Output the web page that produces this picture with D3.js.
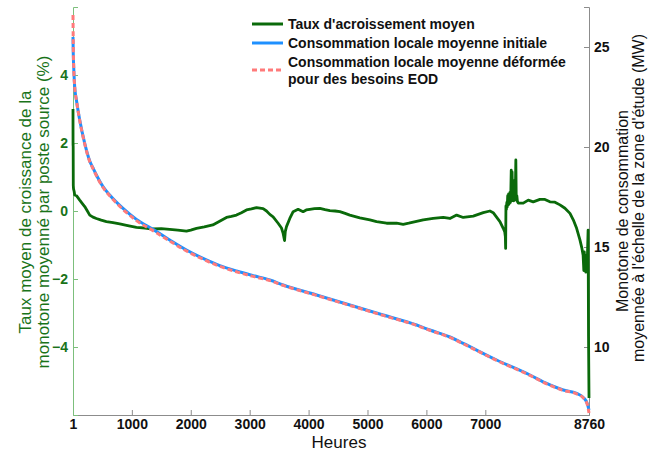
<!DOCTYPE html>
<html>
<head>
<meta charset="utf-8">
<script src="https://cdn.jsdelivr.net/npm/d3@7/dist/d3.min.js"></script>
<style>
  html, body { margin: 0; padding: 0; background: #ffffff; }
  svg { display: block; font-family: "Liberation Sans", Arial, sans-serif; }
</style>
</head>
<body>
<svg id="chart" width="648" height="454"></svg>
<script>
// Hourly axis ticks and value ticks
const xTicks = [1, 1000, 2000, 3000, 4000, 5000, 6000, 7000, 8760];
const leftTicks = [-4, -2, 0, 2, 4];
const rightTicks = [10, 15, 20, 25];

// Mean growth rate (%) along the sorted hours
const rateHours = [
  1, 2, 4, 6, 10, 20, 30, 60, 115, 160, 200, 245, 285, 340, 398, 480, 568, 680, 794, 930,
  1078, 1220, 1355, 1500, 1643, 1780, 1927, 2000, 2097, 2230, 2374, 2490, 2606, 2690, 2776,
  2860, 2946, 3030, 3116, 3228, 3286, 3342, 3398, 3483, 3540, 3568, 3592, 3605, 3625, 3681,
  3738, 3822, 3907, 3960, 4021, 4100, 4191, 4280, 4361, 4450, 4531, 4620, 4700, 4870, 5040,
  5154, 5324, 5494, 5606, 5700, 5776, 5946, 6115, 6285, 6399, 6513, 6625, 6795, 6965, 7078,
  7134, 7248, 7304, 7330, 7340, 7345, 7350, 7358, 7365, 7372, 7380, 7388, 7395, 7402, 7410,
  7418, 7425, 7432, 7440, 7447, 7455, 7462, 7470, 7480, 7490, 7500, 7510, 7518, 7525, 7535,
  7545, 7560, 7644, 7729, 7813, 7927, 8012, 8097, 8182, 8267, 8352, 8437, 8493, 8550, 8606,
  8640, 8660, 8672, 8680, 8690, 8700, 8706, 8715, 8725, 8735, 8745, 8752, 8760
];
const rateValues = [
  3.0, 1.95, 1.9, 0.75, 0.65, 0.58, 0.47, 0.45, 0.32, 0.22, 0.13, 0.0, -0.12, -0.18, -0.22, -0.27, -0.31, -0.34, -0.38, -0.43,
  -0.48, -0.5, -0.53, -0.52, -0.54, -0.56, -0.59, -0.56, -0.51, -0.47, -0.41, -0.3, -0.19, -0.16, -0.12,
  -0.05, 0.03, 0.06, 0.1, 0.07, 0.0, -0.1, -0.17, -0.36, -0.5, -0.66, -0.87, -0.6, -0.46, -0.22,
  -0.02, 0.05, -0.02, 0.03, 0.05, 0.07, 0.08, 0.04, 0.01, 0.0, -0.02, -0.07, -0.12, -0.2, -0.26,
  -0.31, -0.36, -0.36, -0.39, -0.36, -0.33, -0.26, -0.22, -0.19, -0.22, -0.12, -0.19, -0.15, -0.05, 0.0,
  -0.05, -0.31, -0.51, -0.62, -0.75, -1.1, 0.15, 0.05, 0.25, 0.12, 0.45, 0.18, 0.5, 0.2, 0.35,
  0.55, 0.25, 0.45, 1.2, 0.3, 1.15, 0.35, 0.9, 0.3, 0.45, 0.32, 0.6, 1.5, 0.35, 0.45,
  0.28, 0.23, 0.23, 0.32, 0.27, 0.34, 0.34, 0.27, 0.26, 0.18, 0.08, -0.07, -0.26, -0.51, -0.85,
  -1.1, -1.3, -1.75, -1.2, -1.6, -1.3, -1.8, -1.4, -1.75, -1.2, -0.56, -3.7, -5.5
];

// Mean local load duration curves (MW)
const loadHours = [
  1, 5, 13, 30, 59, 115, 200, 285, 341, 398, 510, 624, 850, 1078, 1360, 1643, 1927, 2209,
  2493, 2776, 3058, 3342, 3568, 4135, 4701, 5266, 5833, 6059, 6399, 6625, 7192, 7758, 8041,
  8323, 8550, 8662, 8730, 8760
];
const loadInitial = [
  25.5, 24.7, 24.0, 23.0, 22.35, 21.35, 20.18, 19.3, 18.95, 18.6, 18.02, 17.6, 16.93, 16.38, 15.88, 15.35, 14.85, 14.43,
  14.07, 13.8, 13.57, 13.35, 13.1, 12.6, 12.1, 11.6, 11.1, 10.85, 10.5, 10.18, 9.35, 8.6, 8.18,
  7.85, 7.68, 7.48, 7.18, 6.85
];
const loadDeformed = [
  26.6, 25.3, 24.0, 23.0, 22.35, 21.33, 20.15, 19.27, 18.92, 18.57, 17.98, 17.56, 16.88, 16.32, 15.82, 15.3, 14.8, 14.39,
  14.03, 13.76, 13.53, 13.32, 13.08, 12.58, 12.08, 11.58, 11.08, 10.83, 10.48, 10.16, 9.33, 8.58, 8.16,
  7.83, 7.66, 7.46, 7.14, 6.7
];

const legendLabels = [
  ["Taux d'acroissement moyen"],
  ["Consommation locale moyenne initiale"],
  ["Consommation locale moyenne déformée", "pour des besoins EOD"]
];

const colors = {
  rate: "#0a6a0a",
  initial: "#1e90ff",
  deformed: "#ff7a7a",
  leftAxis: "#7cbf7c",
  leftText: "#197319",
  frame: "#8c8c8c"
};

const svg = d3.select("#chart");
const margin = { left: 73, right: 589, top: 7, bottom: 415 };

const x = d3.scaleLinear().domain([1, 8760]).range([margin.left, margin.right]);
const yLeft = d3.scaleLinear().domain([-6, 6]).range([margin.bottom, margin.top]);
const yRight = d3.scaleLinear().domain([6.6, 27]).range([margin.bottom, margin.top]);

// Axes
const xAxis = svg.append("g")
  .attr("transform", `translate(0,${margin.bottom})`)
  .call(d3.axisBottom(x).tickValues(xTicks).tickSize(-5).tickPadding(4).tickFormat(d3.format("d")));
xAxis.select(".domain").attr("stroke", colors.frame);
xAxis.selectAll(".tick line").attr("stroke", colors.frame);
xAxis.selectAll(".tick text")
  .attr("font-size", 14).attr("font-weight", "bold").attr("fill", "#111")
  .attr("font-family", "Liberation Sans, Arial, sans-serif");

const leftAxis = svg.append("g")
  .attr("transform", `translate(${margin.left},0)`)
  .call(d3.axisLeft(yLeft).tickValues(leftTicks).tickSize(-5).tickPadding(5));
leftAxis.select(".domain").attr("stroke", colors.leftAxis);
leftAxis.selectAll(".tick line").attr("stroke", colors.leftAxis);
leftAxis.selectAll(".tick text")
  .attr("font-size", 14).attr("font-weight", "bold").attr("fill", colors.leftText)
  .attr("font-family", "Liberation Sans, Arial, sans-serif");

const rightAxis = svg.append("g")
  .attr("transform", `translate(${margin.right},0)`)
  .call(d3.axisRight(yRight).tickValues(rightTicks).tickSize(-5).tickPadding(5));
rightAxis.select(".domain").attr("stroke", colors.frame);
rightAxis.selectAll(".tick line").attr("stroke", colors.frame);
rightAxis.selectAll(".tick text")
  .attr("font-size", 14).attr("font-weight", "bold").attr("fill", "#111")
  .attr("font-family", "Liberation Sans, Arial, sans-serif");

// Series
const rateLine = d3.line()
  .x((d, i) => x(rateHours[i]))
  .y(d => yLeft(d));
const loadLine = d3.line()
  .x((d, i) => x(loadHours[i]))
  .y(d => yRight(d))
  .curve(d3.curveMonotoneX);

const plot = svg.append("g");
plot.append("path")
  .datum(rateValues)
  .attr("d", rateLine)
  .attr("fill", "none")
  .attr("stroke", colors.rate)
  .attr("stroke-width", 2.8)
  .attr("stroke-linejoin", "round");
plot.append("path")
  .datum(loadInitial)
  .attr("d", loadLine)
  .attr("fill", "none")
  .attr("stroke", colors.initial)
  .attr("stroke-width", 3);
plot.append("path")
  .datum(loadDeformed)
  .attr("d", loadLine)
  .attr("fill", "none")
  .attr("stroke", colors.deformed)
  .attr("stroke-width", 3)
  .attr("stroke-dasharray", "5,3");

// Legend
const legend = svg.append("g").attr("font-size", 14).attr("font-weight", "bold").attr("fill", "#111");
const legendItems = [
  { key: "rate", y: 24, text: [29] },
  { key: "initial", y: 43, text: [48] },
  { key: "deformed", y: 70, text: [67, 84] }
];
legendItems.forEach((item, i) => {
  const ln = legend.append("line")
    .attr("x1", 252).attr("x2", 283)
    .attr("y1", item.y).attr("y2", item.y)
    .attr("stroke", colors[item.key])
    .attr("stroke-width", 3);
  if (item.key === "deformed") ln.attr("stroke-dasharray", "5,3");
  legendLabels[i].forEach((t, j) => {
    legend.append("text").attr("x", 288).attr("y", item.text[j]).text(t);
  });
});

// Axis titles
svg.append("text")
  .attr("x", (margin.left + margin.right) / 2 + 8)
  .attr("y", 448)
  .attr("text-anchor", "middle")
  .attr("font-size", 17)
  .attr("fill", "#111")
  .text("Heures");

const leftTitle = svg.append("g").attr("fill", colors.leftText).attr("font-size", 17).attr("text-anchor", "middle");
leftTitle.append("text")
  .attr("transform", "translate(31,212) rotate(-90)")
  .text("Taux moyen de croissance de la");
leftTitle.append("text")
  .attr("transform", "translate(49,212) rotate(-90)")
  .text("monotone moyenné par poste source (%)");

const rightTitle = svg.append("g").attr("fill", "#111").attr("font-size", 16).attr("text-anchor", "middle");
rightTitle.append("text")
  .attr("transform", "translate(628,211) rotate(-90)")
  .text("Monotone de consommation");
rightTitle.append("text")
  .attr("transform", "translate(644,198) rotate(-90)")
  .text("moyennée à l'échelle de la zone d'étude (MW)");
</script>
</body>
</html>
